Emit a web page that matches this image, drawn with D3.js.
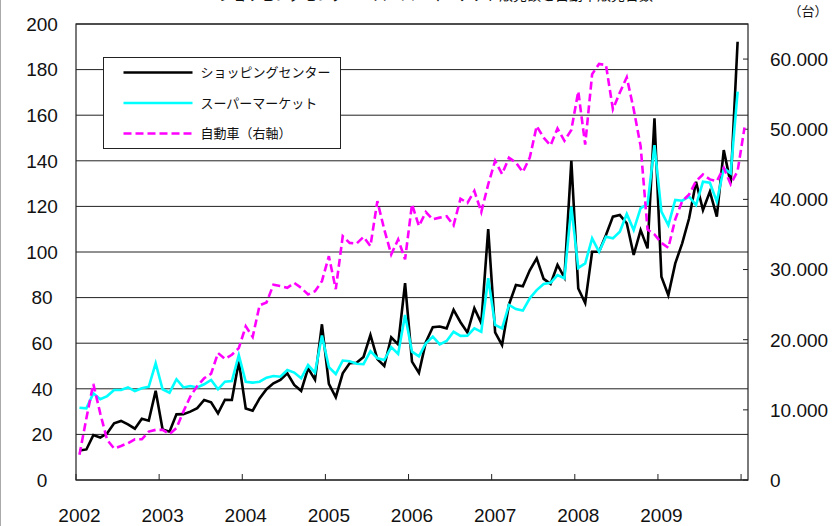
<html>
<head>
    <meta charset="utf-8">
    <script src="https://d3js.org/d3.v7.min.js"></script>
    <style>
        body { margin: 0; background: #fff; }
        .num { font-family: 'Liberation Sans', Arial, sans-serif; font-size: 19px; fill: #111; }
        .jp { font-family: 'Noto Sans CJK JP', sans-serif; font-size: 13px; fill: #111; }
        .grid { stroke: #222; stroke-width: 1px; }
        .frame { fill: none; stroke: #222; stroke-width: 1.2px; }
    </style>
</head>
<body>
<svg id="chart" width="832" height="526"></svg>
<script>
    // years on the category axis (monthly data, Jan 2002 .. Jan 2010)
    const years = [2002, 2003, 2004, 2005, 2006, 2007, 2008, 2009];
    const months = [];
    years.concat([2010]).forEach(y => {
        for (let m = 1; m <= 12; m++) {
            if (y === 2010 && m > 1) break;
            months.push(y + '-' + m);
        }
    });

    // ショッピングセンター (left axis)
    const shoppingCenter = [
        12.9, 13.4, 19.7, 18.6, 20.5, 24.9, 25.9, 24.4, 22.5, 26.9, 26.0, 39.1,
        22.2, 21.2, 28.8, 28.9, 30.0, 31.5, 35.1, 34.1, 29.2, 35.2, 35.1, 52.0,
        31.4, 30.4, 35.8, 39.8, 42.4, 43.9, 46.8, 41.7, 39.1, 49.0, 44.0, 68.3,
        42.2, 36.3, 46.8, 51.2, 51.4, 54.0, 63.6, 53.0, 50.0, 62.6, 59.5, 86.3,
        51.9, 47.0, 60.5, 67.0, 67.3, 66.5, 74.6, 69.2, 64.7, 75.3, 68.8, 110.0,
        64.8, 59.2, 77.0, 85.5, 85.0, 92.0, 97.2, 88.2, 86.0, 94.3, 88.8, 140.0,
        84.0, 77.6, 100.1, 100.1, 107.5, 115.5, 116.2, 112.6, 98.7, 109.6, 101.6, 158.6,
        89.2, 81.1, 95.0, 103.8, 114.8, 130.8, 118.4, 126.5, 115.5, 144.7, 130.1, 192.2
    ];

    // スーパーマーケット (left axis)
    const supermarket = [
        31.7, 31.4, 38.0, 35.4, 36.8, 39.5, 39.5, 40.6, 39.0, 40.2, 40.9, 51.2,
        39.8, 38.3, 44.2, 40.6, 41.2, 40.6, 42.0, 43.9, 39.8, 43.1, 43.4, 54.8,
        43.1, 42.7, 43.1, 44.9, 45.6, 45.3, 48.2, 47.1, 44.6, 50.4, 47.1, 63.4,
        49.5, 46.5, 52.4, 52.1, 51.0, 50.8, 56.5, 53.4, 52.6, 58.3, 55.3, 72.4,
        56.3, 54.2, 60.0, 62.9, 59.5, 61.0, 65.0, 63.2, 63.3, 66.5, 65.0, 88.5,
        68.0, 66.5, 76.8, 75.0, 74.3, 79.7, 83.3, 86.0, 86.5, 89.9, 88.5, 119.9,
        93.0, 95.0, 106.0, 100.1, 106.7, 106.0, 108.9, 116.7, 109.6, 119.2, 121.0, 146.9,
        117.7, 111.8, 122.8, 122.5, 124.3, 120.6, 130.8, 130.4, 122.1, 136.7, 134.5, 170.3
    ];

    // 自動車 (right axis, 台)
    const cars = [
        3600, 8800, 13700, 9500, 5700, 4500, 4850, 5250, 5800, 5800, 6900, 7150,
        7150, 6550, 7400, 9750, 11900, 13400, 14500, 15150, 18100, 17250, 17850, 18800,
        21900, 20400, 24900, 25300, 27850, 27650, 27400, 28100, 27400, 26450, 26900, 28350,
        31900, 27200, 34750, 33800, 33700, 34650, 33350, 39750, 35700, 32150, 34300, 31450,
        39300, 36200, 38200, 37150, 37400, 37600, 36300, 40100, 39500, 41200, 38200, 42150,
        45500, 43600, 45950, 45250, 43900, 45950, 50450, 48800, 47700, 50100, 48350, 49900,
        55400, 47800, 57850, 59300, 59150, 52850, 55250, 57400, 52850, 47600, 35700, 35000,
        33800, 33100, 37150, 39750, 40700, 42600, 43550, 42850, 42600, 44500, 42150, 44050,
        50250
    ];

    const leftTicks = [0, 20, 40, 60, 80, 100, 120, 140, 160, 180, 200];
    const rightTicks = [0, 10000, 20000, 30000, 40000, 50000, 60000];
    const seriesNames = ['ショッピングセンター', 'スーパーマーケット', '自動車（右軸）'];

    const svg = d3.select('#chart');
    const margin = { left: 76, right: 84, top: 24, bottom: 46 };
    const plotWidth = +svg.attr('width') - margin.left - margin.right;
    const plotHeight = +svg.attr('height') - margin.top - margin.bottom;

    const plot = svg.append('g').attr('transform', `translate(${margin.left}, ${margin.top})`);

    const x = d3.scaleBand().domain(months).range([0, plotWidth]).paddingInner(0).paddingOuter(0);
    const yLeft = d3.scaleLinear().domain([0, 200]).range([plotHeight, 0]);
    const yRight = d3.scaleLinear().domain([0, 65000]).range([plotHeight, 0]);
    const cx = (d, i) => x(months[i]) + x.bandwidth() / 2;

    // thin border on the far left of the picture
    svg.append('line').attr('x1', 0.5).attr('x2', 0.5).attr('y1', 0).attr('y2', 526)
        .attr('stroke', '#aaa');

    // title, mostly cut off at the top edge (as in the source picture)
    svg.append('text').attr('class', 'jp')
        .attr('x', 436).attr('y', 0)
        .attr('text-anchor', 'middle')
        .style('font-size', '14px')
        .text('ショッピングセンター・スーパーマーケット販売額と自動車販売台数');

    // gridlines
    plot.selectAll('line.grid')
        .data(leftTicks)
        .join('line')
        .attr('class', 'grid')
        .attr('x1', 0).attr('x2', plotWidth)
        .attr('y1', d => yLeft(d)).attr('y2', d => yLeft(d));

    plot.append('rect').attr('class', 'frame')
        .attr('x', 0).attr('y', 0).attr('width', plotWidth).attr('height', plotHeight);

    // left axis labels
    svg.selectAll('text.ly')
        .data(leftTicks)
        .join('text')
        .attr('class', 'num ly')
        .attr('x', 42)
        .attr('y', d => margin.top + yLeft(d))
        .attr('dy', '0.36em')
        .attr('text-anchor', 'middle')
        .text(d => d);

    // right axis: inward ticks + labels
    plot.selectAll('line.rt')
        .data(rightTicks)
        .join('line')
        .attr('class', 'rt')
        .attr('stroke', '#222')
        .attr('x1', plotWidth - 5).attr('x2', plotWidth)
        .attr('y1', d => yRight(d)).attr('y2', d => yRight(d));

    svg.selectAll('text.ry')
        .data(rightTicks)
        .join('text')
        .attr('class', 'num ry')
        .attr('x', 770)
        .attr('y', d => margin.top + yRight(d))
        .attr('dy', '0.36em')
        .text(d => d === 0 ? '0' : d3.format(',')(d).replace(',', '.'));

    svg.append('text').attr('class', 'jp')
        .attr('x', 808).attr('y', 16)
        .attr('text-anchor', 'middle')
        .text('（台）');

    // x axis: ticks every 12 months, pointing inward
    const tickIdx = d3.range(0, months.length, 12);
    plot.selectAll('line.xt')
        .data(tickIdx)
        .join('line')
        .attr('class', 'xt')
        .attr('stroke', '#222')
        .attr('x1', i => x(months[i])).attr('x2', i => x(months[i]))
        .attr('y1', plotHeight - 6).attr('y2', plotHeight);

    svg.selectAll('text.xl')
        .data(years)
        .join('text')
        .attr('class', 'num xl')
        .attr('x', (d, k) => margin.left + x(months[k * 12]) + x.bandwidth() / 2)
        .attr('y', 515)
        .attr('dy', '0.36em')
        .attr('text-anchor', 'middle')
        .text(d => d);

    // lines
    const lineLeft = d3.line().x(cx).y(d => yLeft(d));
    const lineRight = d3.line().x(cx).y(d => yRight(d));

    plot.append('path')
        .attr('d', lineLeft(shoppingCenter))
        .attr('fill', 'none').attr('stroke', '#000').attr('stroke-width', 2.6)
        .attr('stroke-linejoin', 'miter');

    plot.append('path')
        .attr('d', lineLeft(supermarket))
        .attr('fill', 'none').attr('stroke', '#00ffff').attr('stroke-width', 2.6);

    plot.append('path')
        .attr('d', lineRight(cars))
        .attr('fill', 'none').attr('stroke', '#ff00ff').attr('stroke-width', 2.6)
        .attr('stroke-dasharray', '8,4');

    // legend
    const legend = svg.append('g').attr('transform', 'translate(103.5, 57.5)');
    legend.append('rect')
        .attr('width', 237).attr('height', 91)
        .attr('fill', '#fff').attr('stroke', '#222');

    const legendStyles = [
        { color: '#000', dash: null },
        { color: '#00ffff', dash: null },
        { color: '#ff00ff', dash: '8,4' }
    ];
    seriesNames.forEach((name, i) => {
        const ly = 15 + i * 30.5;
        legend.append('line')
            .attr('x1', 20).attr('x2', 89)
            .attr('y1', ly).attr('y2', ly)
            .attr('stroke', legendStyles[i].color)
            .attr('stroke-width', 2.6)
            .attr('stroke-dasharray', legendStyles[i].dash);
        legend.append('text').attr('class', 'jp')
            .attr('x', 97).attr('y', ly)
            .attr('dy', '0.35em')
            .text(name);
    });
</script>
</body>
</html>
